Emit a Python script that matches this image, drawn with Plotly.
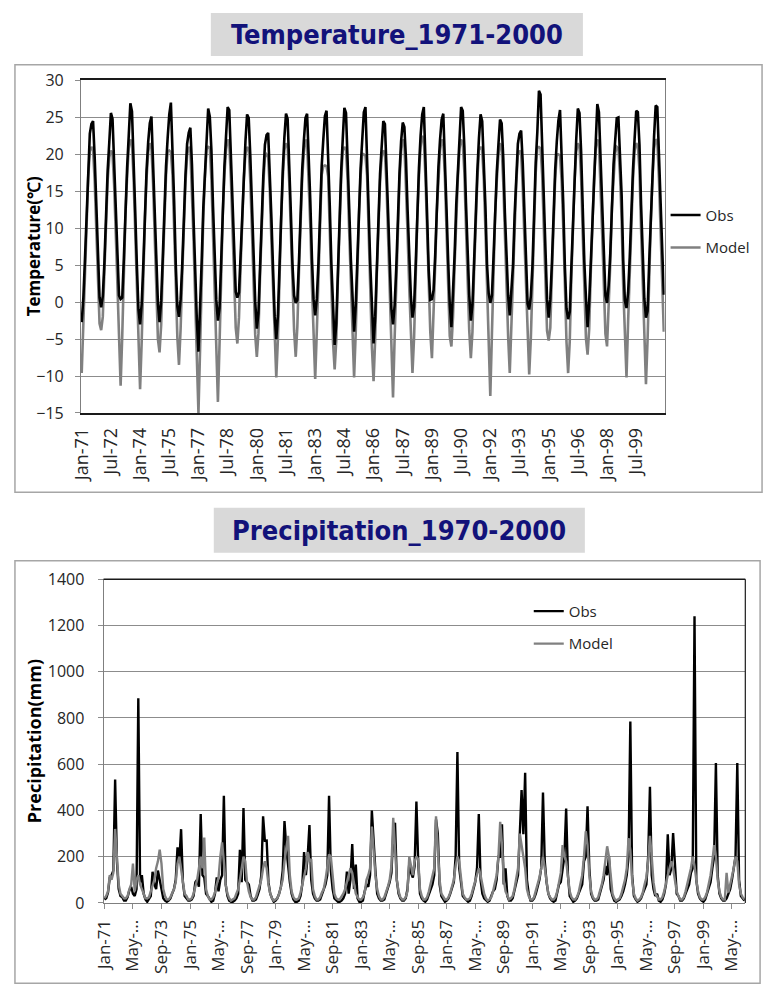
import plotly.graph_objects as go

MONTH_NAMES = ["Jan", "Feb", "Mar", "Apr", "May", "Jun", "Jul", "Aug", "Sep", "Oct", "Nov", "Dec"]
YEARS = list(range(1971, 2001))
months = [f"{m}-{str(y)[2:]}" for y in YEARS for m in MONTH_NAMES]

# ---------------- Temperature (deg C), one row per year, Jan..Dec ----------------
temp_obs_rows = [
    [-2.7, 0.5, 5.8, 12.4, 17.6, 22.8, 24.1, 24.5, 19.6, 12.8, 6.2, 0.6],
    [-0.7, 0.8, 5.4, 12.0, 17.8, 21.6, 25.6, 24.8, 19.2, 12.5, 6.8, 0.9],
    [0.4, 0.6, 6.0, 13.1, 18.2, 22.5, 26.9, 25.8, 20.1, 12.3, 5.1, -1.0],
    [-3.0, -0.2, 5.2, 12.6, 17.9, 21.7, 24.2, 25.1, 19.4, 12.6, 5.6, -0.2],
    [-2.7, 0.2, 6.1, 13.0, 18.4, 22.2, 25.4, 27.0, 21.3, 13.7, 5.2, -0.6],
    [-2.0, 0.4, 5.1, 12.3, 17.2, 21.4, 22.9, 23.6, 18.6, 11.1, 3.4, -2.4],
    [-6.7, -1.6, 5.6, 12.8, 18.0, 22.6, 26.2, 25.1, 20.5, 12.9, 6.0, 0.3],
    [-2.5, -0.8, 5.5, 13.0, 18.3, 22.4, 26.4, 26.0, 20.0, 13.2, 6.1, 1.4],
    [0.6, 1.3, 6.4, 12.2, 17.9, 21.8, 25.4, 24.9, 19.7, 12.9, 5.3, 0.1],
    [-3.6, -1.5, 4.8, 11.6, 17.1, 21.3, 22.6, 22.9, 18.2, 11.4, 4.6, -1.9],
    [-5.0, -1.8, 4.9, 12.3, 17.8, 22.3, 25.5, 24.8, 19.4, 12.1, 5.0, 0.9],
    [-0.1, 0.3, 5.6, 12.4, 18.0, 21.8, 24.9, 25.5, 20.3, 13.6, 5.9, 0.4],
    [-1.8, 0.5, 5.3, 13.2, 18.4, 22.0, 25.2, 25.9, 20.6, 13.0, 5.1, -0.8],
    [-5.8, -2.9, 4.2, 11.9, 17.6, 22.1, 26.3, 25.6, 20.0, 12.6, 5.8, -0.5],
    [-4.0, -0.5, 5.7, 12.9, 18.1, 21.9, 25.7, 26.4, 20.6, 12.2, 4.9, -1.6],
    [-5.6, -2.0, 4.9, 12.5, 17.4, 21.0, 24.5, 24.1, 19.0, 11.9, 5.4, -0.9],
    [-3.0, -0.4, 4.6, 11.8, 17.5, 21.8, 24.3, 23.7, 19.3, 12.4, 5.6, 0.8],
    [-2.1, -0.6, 5.2, 12.6, 18.2, 22.5, 25.4, 26.4, 20.2, 12.0, 4.4, 0.3],
    [0.4, 1.6, 6.3, 13.5, 18.3, 22.0, 24.7, 25.5, 20.1, 12.6, 5.7, -0.3],
    [-3.4, 1.2, 6.5, 13.2, 17.9, 22.4, 26.4, 25.9, 21.0, 13.4, 6.9, 1.0],
    [-2.5, -0.3, 5.5, 12.8, 17.7, 22.2, 25.4, 24.5, 19.8, 12.9, 5.0, 1.2],
    [-0.1, 0.9, 6.2, 13.1, 17.6, 21.3, 24.7, 24.2, 19.5, 12.1, 6.0, 0.9],
    [-1.8, 1.4, 5.0, 11.8, 17.2, 21.4, 22.8, 23.2, 18.9, 12.0, 6.1, -0.2],
    [-1.0, 0.8, 4.9, 14.0, 18.9, 23.0, 28.6, 28.1, 20.5, 13.2, 7.3, 0.4],
    [-2.1, 0.4, 5.3, 12.6, 17.8, 21.7, 24.6, 26.0, 19.9, 13.3, 4.8, -0.9],
    [-2.3, -1.3, 4.8, 11.2, 17.9, 22.0, 26.2, 25.6, 20.4, 12.5, 5.4, 0.6],
    [-3.4, 0.1, 5.6, 12.8, 18.1, 22.3, 26.8, 25.7, 19.5, 12.5, 6.2, 0.9],
    [-0.1, 2.3, 6.6, 14.1, 18.6, 21.8, 24.9, 25.0, 20.6, 14.5, 5.6, 0.2],
    [-0.8, 1.3, 6.1, 12.9, 17.9, 22.1, 25.9, 25.7, 21.3, 13.1, 6.0, 0.5],
    [-2.1, -1.2, 5.4, 12.1, 18.0, 22.4, 26.6, 26.4, 20.1, 13.3, 6.6, 1.0],
]
temp_model_rows = [
    [-9.6, -3.2, 4.5, 11.6, 16.9, 20.4, 21.0, 20.6, 16.4, 9.8, 2.2, -2.9],
    [-3.8, -2.0, 4.1, 11.0, 16.5, 19.6, 20.5, 20.1, 15.8, 9.3, 2.9, -4.6],
    [-11.3, -4.5, 4.3, 11.9, 17.0, 20.8, 22.0, 21.4, 16.7, 9.4, 1.6, -5.9],
    [-11.8, -5.3, 3.8, 11.4, 16.8, 20.3, 21.5, 21.0, 16.1, 9.5, 1.5, -5.0],
    [-6.8, -3.1, 4.6, 11.8, 17.1, 20.4, 20.5, 20.3, 17.2, 10.0, 1.8, -4.8],
    [-8.5, -3.6, 3.7, 11.2, 16.2, 19.9, 21.0, 20.6, 15.4, 8.2, 0.2, -7.5],
    [-15.0, -6.4, 4.0, 11.6, 16.9, 20.7, 21.0, 20.9, 16.6, 9.3, 1.9, -5.6],
    [-13.5, -5.7, 4.1, 11.9, 17.2, 20.6, 22.0, 21.5, 16.8, 9.9, 2.3, -3.5],
    [-5.6, -2.1, 4.8, 11.1, 16.8, 20.1, 21.0, 20.7, 16.3, 9.6, 1.7, -4.4],
    [-7.4, -4.2, 3.5, 10.6, 16.0, 19.6, 20.0, 19.7, 15.1, 8.3, 1.2, -5.8],
    [-10.2, -5.0, 3.6, 11.2, 16.7, 20.6, 21.5, 21.0, 16.2, 8.9, 1.6, -3.9],
    [-7.4, -3.3, 4.2, 11.3, 16.9, 20.2, 22.0, 21.6, 16.9, 10.2, 2.2, -4.8],
    [-10.4, -3.9, 4.0, 12.0, 17.2, 18.4, 18.5, 18.4, 17.0, 9.6, 1.6, -5.4],
    [-9.1, -5.2, 3.1, 10.9, 16.6, 20.5, 21.0, 20.6, 16.5, 9.3, 2.1, -5.2],
    [-10.2, -4.1, 4.3, 11.8, 17.0, 20.1, 20.0, 19.8, 17.1, 8.8, 1.4, -6.2],
    [-10.7, -5.0, 3.7, 11.4, 16.3, 19.6, 20.5, 20.2, 15.7, 8.6, 1.8, -5.3],
    [-12.9, -4.8, 3.4, 10.8, 16.4, 20.4, 22.0, 21.5, 16.0, 9.1, 2.0, -3.9],
    [-9.6, -4.7, 3.9, 11.5, 17.0, 21.0, 22.5, 22.0, 16.9, 8.9, 0.9, -4.1],
    [-7.6, -2.5, 4.9, 12.2, 17.1, 20.5, 22.0, 21.6, 16.8, 9.4, 2.0, -4.6],
    [-6.0, -2.0, 5.1, 12.0, 16.8, 20.8, 22.0, 21.5, 17.6, 10.1, 3.0, -3.8],
    [-7.6, -4.0, 4.1, 11.7, 16.5, 20.6, 21.0, 20.6, 16.5, 9.7, 1.5, -4.5],
    [-12.7, -4.3, 4.8, 11.9, 16.4, 19.9, 21.5, 21.0, 16.2, 8.9, 2.4, -4.6],
    [-9.6, -3.0, 3.6, 10.7, 16.0, 19.9, 20.5, 20.2, 15.6, 8.8, 2.5, -5.5],
    [-9.8, -4.9, 3.5, 12.6, 17.5, 21.0, 21.0, 20.8, 17.2, 10.0, 3.6, -3.9],
    [-5.2, -3.5, 3.9, 11.4, 16.6, 20.0, 20.0, 19.8, 16.4, 10.1, 1.2, -5.4],
    [-9.6, -5.3, 3.4, 10.2, 16.6, 20.4, 21.5, 21.0, 17.0, 9.2, 1.9, -4.9],
    [-7.1, -3.6, 4.2, 11.6, 16.9, 20.7, 22.0, 21.4, 16.1, 9.3, 2.6, -4.3],
    [-6.0, -1.3, 5.2, 12.8, 17.3, 20.2, 21.0, 20.8, 17.2, 11.1, 2.0, -4.7],
    [-10.2, -2.6, 4.7, 11.7, 16.6, 20.5, 21.5, 21.1, 17.9, 9.8, 2.4, -4.5],
    [-11.1, -5.1, 4.1, 10.9, 16.7, 20.8, 22.0, 21.8, 16.8, 10.0, 3.1, -4.0],
]

# ---------------- Precipitation (mm), one row per year, Jan..Dec ----------------
precip_obs_rows = [
    [15, 20, 45, 110, 120, 140, 534, 180, 60, 30, 25, 10],
    [10, 25, 55, 70, 40, 30, 60, 885, 90, 120, 40, 15],
    [5, 15, 30, 135, 80, 60, 140, 100, 60, 20, 10, 5],
    [10, 20, 40, 60, 100, 240, 180, 319, 90, 30, 20, 10],
    [10, 15, 30, 90, 100, 70, 385, 120, 110, 40, 30, 15],
    [5, 10, 40, 110, 50, 100, 120, 463, 80, 30, 10, 5],
    [5, 10, 20, 40, 230, 90, 410, 100, 90, 80, 30, 10],
    [10, 15, 35, 60, 120, 375, 269, 270, 90, 40, 20, 5],
    [10, 20, 40, 70, 140, 354, 240, 150, 90, 40, 15, 5],
    [5, 10, 30, 80, 220, 120, 200, 337, 100, 40, 20, 10],
    [10, 15, 35, 60, 80, 120, 463, 140, 60, 20, 10, 5],
    [5, 10, 20, 40, 135, 40, 100, 255, 60, 166, 20, 5],
    [5, 10, 50, 80, 70, 120, 400, 255, 140, 40, 20, 10],
    [10, 15, 40, 70, 90, 130, 300, 347, 100, 40, 20, 10],
    [10, 20, 60, 170, 130, 110, 160, 438, 180, 40, 20, 10],
    [5, 15, 40, 60, 80, 120, 361, 300, 80, 30, 15, 5],
    [10, 20, 40, 70, 90, 200, 653, 150, 80, 30, 20, 10],
    [5, 10, 30, 60, 90, 150, 385, 100, 40, 20, 10, 5],
    [10, 30, 50, 60, 100, 200, 200, 340, 80, 150, 30, 10],
    [10, 20, 50, 80, 120, 300, 488, 297, 563, 100, 40, 10],
    [10, 20, 40, 70, 100, 150, 478, 180, 90, 40, 20, 10],
    [5, 10, 40, 80, 90, 150, 200, 408, 120, 30, 20, 5],
    [10, 20, 40, 60, 80, 180, 200, 418, 150, 40, 20, 10],
    [10, 15, 40, 70, 100, 160, 120, 203, 60, 30, 10, 5],
    [10, 15, 30, 50, 80, 120, 200, 785, 120, 30, 15, 5],
    [10, 20, 40, 60, 80, 200, 502, 120, 60, 30, 40, 10],
    [5, 15, 40, 80, 297, 120, 150, 302, 160, 40, 30, 10],
    [10, 20, 40, 60, 80, 130, 150, 1240, 100, 40, 20, 10],
    [5, 15, 40, 60, 90, 150, 200, 605, 120, 40, 20, 10],
    [10, 20, 40, 60, 100, 150, 200, 605, 100, 30, 20, 10],
]
precip_model_rows = [
    [20, 30, 50, 120, 100, 130, 320, 170, 80, 40, 30, 20],
    [20, 30, 60, 80, 170, 50, 100, 120, 80, 60, 40, 20],
    [20, 25, 50, 80, 100, 150, 180, 230, 170, 60, 30, 15],
    [15, 25, 40, 60, 90, 170, 200, 150, 100, 40, 30, 15],
    [15, 20, 40, 70, 100, 150, 200, 150, 283, 60, 30, 15],
    [15, 25, 45, 80, 110, 200, 262, 180, 80, 40, 20, 10],
    [15, 20, 40, 60, 100, 150, 200, 180, 90, 50, 25, 15],
    [15, 25, 50, 80, 100, 150, 180, 150, 80, 40, 20, 10],
    [15, 20, 40, 70, 100, 180, 240, 290, 120, 50, 25, 15],
    [15, 20, 45, 80, 110, 150, 220, 180, 190, 60, 30, 15],
    [15, 25, 45, 60, 100, 150, 210, 200, 100, 40, 20, 15],
    [15, 25, 40, 60, 90, 120, 150, 130, 80, 40, 25, 15],
    [15, 25, 45, 100, 120, 150, 330, 200, 120, 60, 30, 15],
    [15, 25, 45, 70, 100, 160, 368, 200, 100, 50, 25, 15],
    [15, 25, 50, 200, 150, 120, 180, 200, 190, 60, 30, 15],
    [15, 25, 50, 80, 110, 150, 375, 250, 100, 40, 25, 15],
    [15, 25, 45, 80, 100, 160, 200, 180, 100, 40, 25, 15],
    [15, 20, 40, 70, 100, 130, 150, 120, 80, 40, 20, 10],
    [15, 25, 50, 80, 120, 200, 351, 250, 100, 50, 30, 15],
    [20, 30, 60, 100, 150, 300, 250, 200, 150, 60, 30, 15],
    [15, 25, 50, 80, 110, 150, 200, 150, 100, 40, 25, 15],
    [15, 25, 50, 90, 130, 250, 200, 180, 100, 50, 25, 15],
    [15, 25, 45, 80, 120, 200, 310, 250, 120, 50, 25, 15],
    [15, 25, 50, 80, 120, 180, 245, 200, 100, 40, 20, 10],
    [15, 20, 40, 70, 100, 150, 280, 230, 100, 40, 20, 10],
    [15, 25, 45, 80, 110, 180, 290, 200, 90, 40, 25, 15],
    [15, 25, 50, 90, 120, 150, 180, 150, 100, 50, 30, 15],
    [15, 25, 50, 80, 110, 150, 200, 160, 100, 50, 25, 15],
    [15, 25, 45, 80, 120, 180, 250, 200, 100, 50, 25, 15],
    [15, 130, 45, 80, 110, 150, 200, 180, 80, 40, 25, 15],
]

temp_obs = [v for row in temp_obs_rows for v in row]
temp_model = [v for row in temp_model_rows for v in row]
precip_obs = [v for row in precip_obs_rows for v in row]
precip_model = [v for row in precip_model_rows for v in row]

temp_tick_labels = ["Jan-71", "Jul-72", "Jan-74", "Jul-75", "Jan-77", "Jul-78", "Jan-80",
                    "Jul-81", "Jan-83", "Jul-84", "Jan-86", "Jul-87", "Jan-89", "Jul-90",
                    "Jan-92", "Jul-93", "Jan-95", "Jul-96", "Jan-98", "Jul-99"]
precip_tick_cats = ["Jan-71", "May-72", "Sep-73", "Jan-75", "May-76", "Sep-77", "Jan-79",
                    "May-80", "Sep-81", "Jan-83", "May-84", "Sep-85", "Jan-87", "May-88",
                    "Sep-89", "Jan-91", "May-92", "Sep-93", "Jan-95", "May-96", "Sep-97",
                    "Jan-99", "May-00"]
precip_tick_text = [c if not c.startswith("May") else "May-..." for c in precip_tick_cats]
temp_minor_ticks = ["Jul-72", "Jul-75", "Jul-78", "Jul-81", "Jul-84", "Jul-87", "Jul-90",
                    "Jul-93", "Jul-96", "Jul-99"]

W, H = 765, 1000
def px(x): return x / W
def py(y): return 1 - y / H

FAM = "Open Sans, Arial, sans-serif"
TICK_FONT = dict(family=FAM, size=16, color="#262626")
XTICK_FONT_T = dict(family=FAM, size=18, color="#262626")
XTICK_FONT_P = dict(family=FAM, size=17, color="#262626")
LEG_FONT = dict(family=FAM, size=15, color="#262626")
GRID = "#8c8c8c"

fig = go.Figure()
# temperature: model drawn first (under), obs on top
fig.add_trace(go.Scatter(x=months, y=temp_model, name="Model", mode="lines",
                         line=dict(color="#808080", width=2.6), xaxis="x", yaxis="y",
                         legend="legend", legendgroup="tm", legendrank=2))
fig.add_trace(go.Scatter(x=months, y=temp_obs, name="Obs", mode="lines",
                         line=dict(color="#000000", width=2.6), xaxis="x", yaxis="y",
                         legend="legend", legendgroup="to", legendrank=1))
# precipitation
fig.add_trace(go.Scatter(x=months, y=precip_obs, name="Obs", mode="lines",
                         line=dict(color="#000000", width=2.4), xaxis="x2", yaxis="y2",
                         legend="legend2", legendgroup="po", legendrank=1))
fig.add_trace(go.Scatter(x=months, y=precip_model, name="Model", mode="lines",
                         line=dict(color="#808080", width=2.4), xaxis="x2", yaxis="y2",
                         legend="legend2", legendgroup="pm", legendrank=2))

fig.update_layout(
    width=W, height=H, autosize=False,
    margin=dict(l=0, r=0, t=0, b=0),
    paper_bgcolor="white", plot_bgcolor="white",
    showlegend=True,
    xaxis=dict(domain=[px(70), px(663)], anchor="y", type="category",
               categoryorder="array", categoryarray=months, range=[-0.5, 359.5],
               tickmode="array", tickvals=temp_tick_labels, ticktext=temp_tick_labels,
               tickangle=-90, tickfont=XTICK_FONT_T, showgrid=False, ticks="",
               showline=True, linecolor="#1a1a1a", linewidth=1.5, mirror=True,
               ticklabelstandoff=6, zeroline=False),
    yaxis=dict(domain=[py(411), py(71)], anchor="x", range=[-15, 30], dtick=5,
               tickfont=TICK_FONT, showgrid=True, gridcolor=GRID, gridwidth=1,
               ticks="outside", ticklen=5, tickcolor=GRID, showline=True,
               linecolor="#7f7f7f", linewidth=1, mirror=True, zeroline=False,
               ticklabelstandoff=8),
    xaxis3=dict(overlaying="x", anchor="free", position=py(297.7), type="category",
                categoryorder="array", categoryarray=months, range=[-0.5, 359.5],
                tickmode="array", tickvals=temp_minor_ticks, showticklabels=False,
                ticks="outside", ticklen=5, tickcolor=GRID, showgrid=False,
                showline=False, zeroline=False),
    xaxis2=dict(domain=[px(93), px(745)], anchor="y2", type="category",
                categoryorder="array", categoryarray=months, range=[-0.5, 359.5],
                tickmode="array", tickvals=precip_tick_cats, ticktext=precip_tick_text,
                tickangle=-90, tickfont=XTICK_FONT_P, showgrid=False,
                ticks="outside", ticklen=5, tickcolor=GRID,
                showline=True, linecolor="#7f7f7f", linewidth=1, mirror=False,
                ticklabelstandoff=4, zeroline=False),
    yaxis2=dict(domain=[py(912), py(581)], anchor="x2", range=[0, 1400], dtick=200,
                tickfont=TICK_FONT, showgrid=True, gridcolor=GRID, gridwidth=1,
                ticks="outside", ticklen=5, tickcolor=GRID, showline=True,
                linecolor="#7f7f7f", linewidth=1, mirror=False, zeroline=False,
                ticklabelstandoff=10),
    legend=dict(x=px(664), y=py(192), xanchor="left", yanchor="top",
                traceorder="grouped", tracegroupgap=10, font=LEG_FONT,
                bgcolor="rgba(0,0,0,0)", itemwidth=30),
    legend2=dict(x=px(525), y=py(597), xanchor="left", yanchor="top",
                 traceorder="grouped", tracegroupgap=10, font=LEG_FONT,
                 bgcolor="rgba(0,0,0,0)", itemwidth=30),
)

shapes = [
    # chart frames
    dict(type="rect", xref="paper", yref="paper", x0=px(3), x1=px(762), y0=py(492), y1=py(55),
         line=dict(color="#a6a6a6", width=1.5), fillcolor="rgba(0,0,0,0)", layer="below"),
    dict(type="rect", xref="paper", yref="paper", x0=px(3), x1=px(760), y0=py(994), y1=py(562),
         line=dict(color="#a6a6a6", width=1.5), fillcolor="rgba(0,0,0,0)", layer="below"),
    # title boxes
    dict(type="rect", xref="paper", yref="paper", x0=px(202), x1=px(580), y0=py(46), y1=py(2),
         line=dict(width=0), fillcolor="#d9d9d9", layer="below"),
    dict(type="rect", xref="paper", yref="paper", x0=px(205), x1=px(582), y0=py(554), y1=py(508),
         line=dict(width=0), fillcolor="#d9d9d9", layer="below"),
    # top/right border of precipitation plot area
    dict(type="line", xref="x2 domain", yref="y2 domain", x0=0, x1=1, y0=1, y1=1,
         line=dict(color="#1a1a1a", width=1.5)),
    dict(type="line", xref="x2 domain", yref="y2 domain", x0=1, x1=1, y0=0, y1=1,
         line=dict(color="#1a1a1a", width=1.2)),
]
fig.update_layout(shapes=shapes)

TITLE_FONT = dict(family="Liberation Sans Narrow, DejaVu Sans Condensed, Arial Narrow, Noto Sans CJK KR, sans-serif",
                  size=27, color="#12127a")
AXT_FONT_T = dict(family=FAM, size=17, color="#000000")
AXT_FONT_P = dict(family=FAM, size=18, color="#000000")
annotations = [
    dict(text="<b>Temperature_1971-2000</b>", x=px(391), y=py(24), xref="paper", yref="paper",
         showarrow=False, font=TITLE_FONT, xanchor="center", yanchor="middle"),
    dict(text="<b>Precipitation_1970-2000</b>", x=px(393), y=py(531), xref="paper", yref="paper",
         showarrow=False, font=TITLE_FONT, xanchor="center", yanchor="middle"),
    dict(text="<b>Temperature(℃)</b>", x=px(22), y=py(241), xref="paper", yref="paper",
         showarrow=False, font=AXT_FONT_T, textangle=-90, xanchor="center", yanchor="middle"),
    dict(text="<b>Precipitation(mm)</b>", x=px(22), y=py(747), xref="paper", yref="paper",
         showarrow=False, font=AXT_FONT_P, textangle=-90, xanchor="center", yanchor="middle"),
]
fig.update_layout(annotations=annotations)

fig.write_html("out.html", config={"displayModeBar": False},
               post_script="document.body.style.margin='0px';")
